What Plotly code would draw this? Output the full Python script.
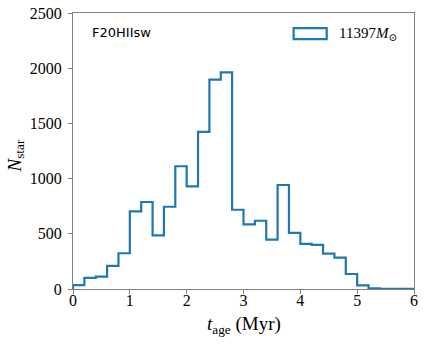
import numpy as np
import plotly.graph_objects as go

# Bin edges (Myr) and star counts per 0.2 Myr bin
bin_edges = list(np.linspace(0, 6, 31))
counts = [35, 100, 112, 209, 324, 703, 788, 485, 745, 1112,
          930, 1424, 1897, 1962, 718, 585, 618, 448, 942, 509,
          409, 400, 321, 285, 136, 33, 6, 2, 1, 1]
x_ticks = [0, 1, 2, 3, 4, 5, 6]
y_ticks = [0, 500, 1000, 1500, 2000, 2500]
label_text = "F20HIIsw"
legend_text = "11397<i>M</i><sub>⊙</sub>"
x_title = "<i>t</i><sub>age</sub> (Myr)"
y_title = "<i>N</i><sub>star</sub>"

color = "#1f77b4"
spine = "#808080"
serif = "Liberation Serif, DejaVu Serif, serif"

xs = [bin_edges[0]] + bin_edges[:-1] + [bin_edges[-1], bin_edges[-1]]
ys = [0] + counts + [counts[-1], 0]

fig = go.Figure()
fig.add_trace(go.Scatter(x=xs, y=ys, mode="lines", line=dict(color=color, width=2.2, shape="hv"),
                         showlegend=False, hoverinfo="skip"))

fig.update_layout(
    width=426, height=347,
    margin=dict(l=73, r=12, t=13, b=58, autoexpand=False),
    plot_bgcolor="white", paper_bgcolor="white",
    font=dict(family=serif, size=15, color="black"),
    showlegend=False,
)
fig.update_xaxes(range=[0, 6], tickvals=x_ticks, ticks="outside", ticklen=4, tickcolor=spine,
                 showline=True, linecolor=spine, linewidth=1, mirror=True, showgrid=False, zeroline=False,
                 tickfont=dict(family=serif, size=16), automargin=False, ticklabelstandoff=-7)
fig.update_yaxes(range=[0, 2500], tickvals=y_ticks, ticks="outside", ticklen=4, tickcolor=spine,
                 showline=True, linecolor=spine, linewidth=1, mirror=True, showgrid=False, zeroline=False,
                 tickfont=dict(family=serif, size=16), automargin=False, ticklabelstandoff=3)

fig.add_annotation(xref="paper", yref="paper", x=0.5, y=-0.13, xanchor="center", yanchor="middle",
                   text=x_title, showarrow=False, font=dict(family=serif, size=19, color="black"))
fig.add_annotation(xref="paper", yref="paper", x=-0.17, y=0.48, xanchor="center", yanchor="middle",
                   text=y_title, showarrow=False, textangle=-90,
                   font=dict(family=serif, size=19, color="black"))

fig.add_annotation(xref="paper", yref="paper", x=0.05, y=0.93, xanchor="left", yanchor="middle",
                   text=label_text, showarrow=False,
                   font=dict(family="DejaVu Sans, sans-serif", size=13, color="black"))
# custom legend: hollow rectangle + text
fig.add_shape(type="rect", xref="paper", yref="paper", x0=0.647, x1=0.744, y0=0.905, y1=0.945,
              line=dict(color=color, width=2.2), fillcolor="white")
fig.add_annotation(xref="paper", yref="paper", x=0.775, y=0.925, xanchor="left", yanchor="middle",
                   text=legend_text, showarrow=False, font=dict(family=serif, size=15, color="black"))

fig.write_html("out.html", post_script="document.body.style.margin='0';",
               config={"displayModeBar": False})
